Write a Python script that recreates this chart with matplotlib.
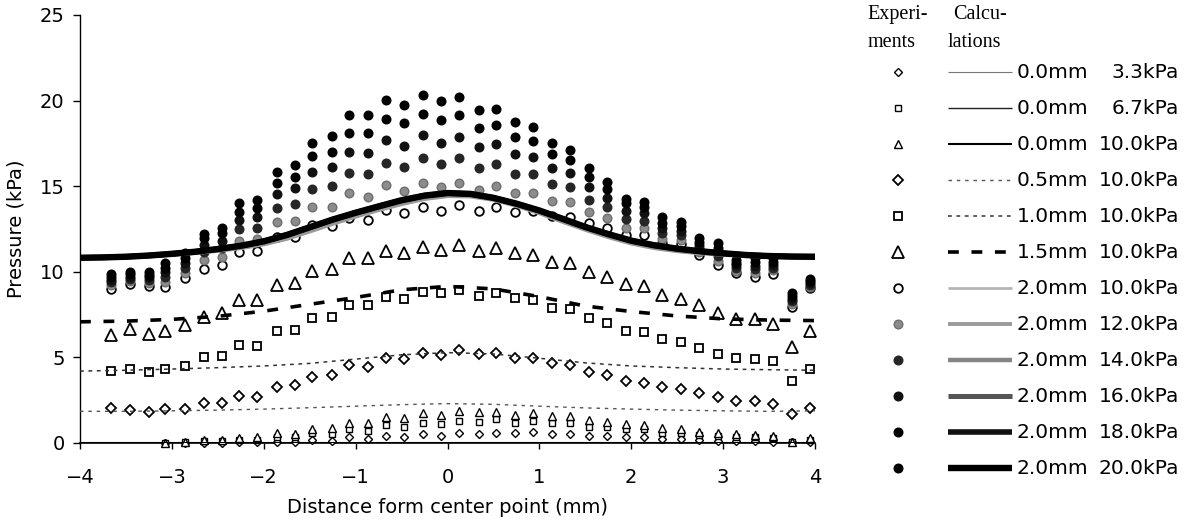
import numpy as np
import matplotlib
matplotlib.use("Agg")
import matplotlib.pyplot as plt

plt.rcParams["font.family"] = ["DejaVu Sans"]

nan = np.nan

# measurement positions (mm)
x_exp = [-3.66, -3.46, -3.25, -3.07, -2.86, -2.65, -2.45, -2.27, -2.07, -1.86,
         -1.66, -1.47, -1.26, -1.07, -0.87, -0.67, -0.47, -0.27, -0.07, 0.13,
         0.34, 0.53, 0.73, 0.93, 1.14, 1.33, 1.54, 1.74, 1.94, 2.14,
         2.34, 2.54, 2.74, 2.94, 3.14, 3.35, 3.54, 3.75, 3.95]

# experiments, 0.0 mm protrusion
exp_00_33 = [nan, nan, nan, 0.0, 0.02, 0.02, 0.02, 0.04, 0.04, 0.08,
             0.08, 0.18, 0.14, 0.33, 0.21, 0.41, 0.33, 0.53, 0.41, 0.60,
             0.53, 0.60, 0.56, 0.62, 0.53, 0.53, 0.41, 0.41, 0.33, 0.33,
             0.21, 0.21, 0.18, 0.14, 0.14, 0.14, 0.08, 0.04, 0.08]
exp_00_67 = [nan, nan, nan, 0.0, 0.05, 0.12, 0.14, 0.20, 0.20, 0.36,
             0.33, 0.56, 0.51, 0.80, 0.72, 1.05, 0.95, 1.19, 1.11, 1.30,
             1.21, 1.38, 1.19, 1.30, 1.15, 1.15, 0.95, 0.95, 0.80, 0.80,
             0.60, 0.56, 0.47, 0.41, 0.37, 0.33, 0.27, 0.05, 0.18]
exp_00_10 = [nan, nan, nan, 0.02, 0.08, 0.15, 0.18, 0.32, 0.33, 0.56,
             0.53, 0.80, 0.86, 1.19, 1.15, 1.54, 1.44, 1.77, 1.64, 1.87,
             1.79, 1.83, 1.64, 1.73, 1.58, 1.58, 1.34, 1.25, 1.09, 1.05,
             0.90, 0.80, 0.66, 0.56, 0.53, 0.47, 0.41, 0.08, 0.27]
# experiments, 0.5 / 1.0 / 1.5 mm at 10 kPa
exp_05 = [2.03, 1.93, 1.79, 1.97, 2.00, 2.34, 2.34, 2.76, 2.69, 3.27,
          3.37, 3.85, 3.95, 4.56, 4.46, 4.95, 4.90, 5.24, 5.14, 5.43,
          5.18, 5.24, 4.95, 4.98, 4.65, 4.56, 4.17, 3.97, 3.62, 3.52,
          3.29, 3.14, 2.94, 2.70, 2.47, 2.47, 2.28, 1.69, 2.03]
exp_10 = [4.22, 4.32, 4.13, 4.32, 4.50, 5.00, 5.08, 5.72, 5.67, 6.54,
          6.60, 7.30, 7.38, 8.06, 8.06, 8.55, 8.43, 8.84, 8.74, 8.94,
          8.61, 8.78, 8.45, 8.35, 7.87, 7.81, 7.32, 7.03, 6.56, 6.50,
          6.06, 5.88, 5.53, 5.20, 4.95, 4.89, 4.81, 3.64, 4.32]
exp_15 = [6.31, 6.66, 6.37, 6.56, 6.89, 7.38, 7.61, 8.35, 8.35, 9.23,
          9.36, 10.05, 10.15, 10.79, 10.79, 11.21, 11.10, 11.47, 11.27, 11.57,
          11.20, 11.40, 11.08, 10.98, 10.59, 10.50, 10.00, 9.68, 9.29, 9.17,
          8.64, 8.39, 8.06, 7.57, 7.22, 7.22, 6.95, 5.59, 6.56]
# experiments, 2.0 mm protrusion
exp_20_10 = [9.00, 9.29, 9.17, 9.13, 9.66, 10.16, 10.40, 11.18, 11.23, 12.05,
             12.02, 12.73, 12.67, 13.12, 13.03, 13.61, 13.42, 13.80, 13.57, 13.90,
             13.57, 13.80, 13.47, 13.57, 13.26, 13.22, 12.83, 12.54, 12.15, 12.15,
             11.66, 11.62, 10.98, 10.40, 9.91, 9.72, 9.87, 7.96, 9.04]
exp_20_12 = [9.20, 9.44, 9.33, 9.42, 9.94, 10.69, 10.88, 11.80, 11.90, 12.93,
             12.98, 13.77, 13.80, 14.58, 14.39, 15.07, 14.74, 15.20, 14.93, 15.20,
             14.78, 15.01, 14.58, 14.58, 14.14, 14.10, 13.49, 13.14, 12.58, 12.54,
             11.90, 11.88, 11.17, 10.65, 10.07, 9.93, 10.10, 8.12, 9.14]
exp_20_14 = [9.38, 9.58, 9.50, 9.70, 10.22, 11.18, 11.37, 12.48, 12.54, 13.71,
             13.96, 14.82, 15.01, 15.75, 15.71, 16.37, 16.10, 16.63, 16.28, 16.63,
             16.05, 16.30, 15.69, 15.69, 15.11, 14.93, 14.19, 13.77, 13.07, 12.98,
             12.25, 12.14, 11.37, 10.90, 10.22, 10.15, 10.25, 8.27, 9.25]
exp_20_16 = [9.55, 9.72, 9.67, 9.98, 10.50, 11.57, 11.82, 13.03, 13.22, 14.53,
             14.88, 15.85, 16.14, 17.02, 16.92, 17.70, 17.37, 17.99, 17.54, 17.89,
             17.31, 17.45, 16.88, 16.72, 16.05, 15.79, 14.93, 14.29, 13.57, 13.42,
             12.54, 12.40, 11.57, 11.15, 10.38, 10.36, 10.42, 8.43, 9.35]
exp_20_18 = [9.72, 9.86, 9.83, 10.25, 10.80, 11.96, 12.25, 13.51, 13.71, 15.20,
             15.56, 16.76, 17.02, 18.09, 18.09, 18.90, 18.67, 19.22, 18.85, 19.16,
             18.40, 18.56, 17.89, 17.62, 16.88, 16.53, 15.52, 14.82, 14.00, 13.80,
             12.87, 12.67, 11.76, 11.40, 10.53, 10.58, 10.60, 8.58, 9.46]
exp_20_20 = [9.90, 10.00, 10.00, 10.53, 11.08, 12.20, 12.54, 14.00, 14.19, 15.85,
             16.24, 17.54, 17.93, 19.16, 19.16, 20.04, 19.74, 20.33, 19.96, 20.19,
             19.45, 19.53, 18.73, 18.48, 17.54, 17.11, 16.05, 15.26, 14.25, 14.10,
             13.18, 12.93, 11.96, 11.66, 10.69, 10.79, 10.79, 8.74, 9.56]

# calculations
x_calc = [-4.0, -3.5, -3.0, -2.5, -2.0, -1.5, -1.0, -0.5, 0.0,
          0.5, 1.0, 1.5, 2.0, 2.5, 3.0, 3.5, 4.0]
calc_00 = [0.0, 0.0, 0.0, 0.0, 0.0, 0.0, 0.0, 0.0, 0.0,
           0.0, 0.0, 0.0, 0.0, 0.0, 0.0, 0.0, 0.0]
calc_05 = [1.85, 1.85, 1.88, 1.92, 1.98, 2.06, 2.15, 2.24, 2.30,
           2.26, 2.15, 2.05, 1.98, 1.92, 1.88, 1.85, 1.88]
calc_10 = [4.20, 4.25, 4.32, 4.40, 4.50, 4.65, 4.90, 5.15, 5.28,
           5.20, 4.95, 4.68, 4.50, 4.40, 4.32, 4.28, 4.25]
calc_15 = [7.08, 7.12, 7.22, 7.40, 7.70, 8.10, 8.50, 8.95, 9.15,
           9.00, 8.55, 8.00, 7.68, 7.42, 7.25, 7.18, 7.15]
x_calc_fine = [-4.0, -3.75, -3.5, -3.25, -3.0, -2.75, -2.5, -2.25, -2.0, -1.75,
               -1.5, -1.25, -1.0, -0.75, -0.5, -0.25, 0.0, 0.25, 0.5, 0.75,
               1.0, 1.25, 1.5, 1.75, 2.0, 2.25, 2.5, 2.75, 3.0, 3.25,
               3.5, 3.75, 4.0]
calc_20_light = [10.80, 10.82, 10.85, 10.91, 10.99, 11.09, 11.22, 11.38, 11.60, 11.92,
                 12.35, 12.80, 13.22, 13.60, 13.95, 14.25, 14.42, 14.40, 14.20, 13.85,
                 13.42, 12.92, 12.45, 12.02, 11.65, 11.38, 11.20, 11.08, 10.99, 10.92,
                 10.87, 10.85, 10.85]
calc_20_dark = [10.82, 10.84, 10.88, 10.95, 11.05, 11.17, 11.33, 11.52, 11.78, 12.15,
                12.60, 13.05, 13.45, 13.82, 14.18, 14.45, 14.60, 14.55, 14.32, 13.98,
                13.58, 13.10, 12.62, 12.20, 11.82, 11.55, 11.35, 11.20, 11.08, 10.98,
                10.92, 10.89, 10.88]

labels_left = ["0.0mm", "0.0mm", "0.0mm", "0.5mm", "1.0mm", "1.5mm",
               "2.0mm", "2.0mm", "2.0mm", "2.0mm", "2.0mm", "2.0mm"]
labels_right = ["3.3kPa", "6.7kPa", "10.0kPa", "10.0kPa", "10.0kPa", "10.0kPa",
                "10.0kPa", "12.0kPa", "14.0kPa", "16.0kPa", "18.0kPa", "20.0kPa"]

# marker / line styles, one per legend row
mk = [
    dict(marker="D", ms=3.6, mfc="white", mec="black", mew=1.0),
    dict(marker="s", ms=4.2, mfc="white", mec="black", mew=1.0),
    dict(marker="^", ms=5.4, mfc="white", mec="black", mew=1.0),
    dict(marker="D", ms=5.6, mfc="white", mec="black", mew=1.3),
    dict(marker="s", ms=6.3, mfc="white", mec="black", mew=1.3),
    dict(marker="^", ms=8.3, mfc="white", mec="black", mew=1.3),
    dict(marker="o", ms=6.2, mfc="white", mec="black", mew=1.3),
    dict(marker="o", ms=6.2, mfc="#8c8c8c", mec="#6e6e6e", mew=1.0),
    dict(marker="o", ms=6.2, mfc="#262626", mec="#262626", mew=1.0),
    dict(marker="o", ms=6.2, mfc="#111111", mec="#111111", mew=1.0),
    dict(marker="o", ms=6.2, mfc="black", mec="black", mew=1.0),
    dict(marker="o", ms=6.2, mfc="black", mec="black", mew=1.0),
]
ln = [
    dict(color="#777777", lw=0.8),
    dict(color="#222222", lw=1.0),
    dict(color="black", lw=1.5),
    dict(color="#555555", lw=1.0, dashes=(2.5, 3.5)),
    dict(color="#333333", lw=1.1, dashes=(2.5, 3.0)),
    dict(color="black", lw=2.6, dashes=(3.0, 3.5)),
    dict(color="#b5b5b5", lw=2.0),
    dict(color="#9a9a9a", lw=2.8),
    dict(color="#858585", lw=3.2),
    dict(color="#555555", lw=3.6),
    dict(color="#111111", lw=4.0),
    dict(color="black", lw=4.6),
]

exp_series = [exp_00_33, exp_00_67, exp_00_10, exp_05, exp_10, exp_15,
              exp_20_10, exp_20_12, exp_20_14, exp_20_16, exp_20_18, exp_20_20]
calc_series = [(x_calc, calc_00), (x_calc, calc_00), (x_calc, calc_00),
               (x_calc, calc_05), (x_calc, calc_10), (x_calc, calc_15),
               (x_calc_fine, calc_20_light), (x_calc_fine, calc_20_light),
               (x_calc_fine, calc_20_dark), (x_calc_fine, calc_20_dark),
               (x_calc_fine, calc_20_dark), (x_calc_fine, calc_20_dark)]

W, H = 1188, 524
fig = plt.figure(figsize=(W / 100, H / 100), dpi=100)
ax = fig.add_axes([80 / W, 1 - 443 / H, 735 / W, 428 / H])

for ys, st in zip(exp_series, mk):
    ax.plot(x_exp, ys, ls="none", clip_on=False, zorder=3, **st)
for (xs, ys), st in zip(calc_series, ln):
    ax.plot(xs, ys, solid_capstyle="butt", zorder=4, **st)

ax.set_xlim(-4, 4)
ax.set_ylim(0, 25)
ax.set_xticks(range(-4, 5))
ax.set_yticks(range(0, 26, 5))
ax.tick_params(axis="y", direction="out", length=5, width=1, labelsize=14, pad=6)
ax.tick_params(axis="x", direction="out", length=4, width=1, labelsize=14, pad=14)
ax.spines["top"].set_visible(False)
ax.spines["right"].set_visible(False)
ax.spines["left"].set_linewidth(1.0)
ax.spines["bottom"].set_linewidth(1.2)
ax.set_xlabel("Distance form center point (mm)", fontsize=14, labelpad=8)
ax.set_ylabel("Pressure (kPa)", fontsize=14, labelpad=10)

# legend drawn in pixel units on an overlay
lg = fig.add_axes([0, 0, 1, 1], facecolor="none")
lg.set_xlim(0, W)
lg.set_ylim(H, 0)
lg.axis("off")
serif = dict(family="Liberation Serif", fontsize=14.5, va="baseline")
lg.text(867, 19, "Experi-", **serif)
lg.text(868, 47, "ments", **serif)
lg.text(953, 19, "Calcu-", **serif)
lg.text(948, 47, "lations", **serif)
for i in range(len(labels_left)):
    y = 72 + 36 * i
    lg.plot([898], [y], ls="none", **mk[i])
    lg.plot([948, 1012], [y, y], solid_capstyle="butt", **ln[i])
    lg.text(1017, y, labels_left[i], fontsize=14.5, va="center", ha="left")
    lg.text(1179, y, labels_right[i], fontsize=14.5, va="center", ha="right")

fig.savefig("out.png", dpi=100)
